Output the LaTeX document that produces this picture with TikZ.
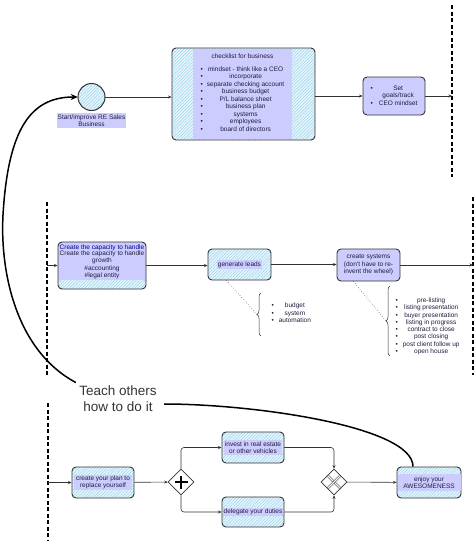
\documentclass[tikz,border=0pt]{standalone}
\usepackage{fontspec}
\setmainfont{Liberation Sans}
\usetikzlibrary{shapes,arrows,positioning,fit,arrows.meta,shapes.geometric,patterns.meta,decorations.pathreplacing}
\definecolor{lav}{HTML}{CCCCFF}
\definecolor{hatchbg}{HTML}{E6F5FB}
\definecolor{hatchln}{HTML}{94D2EE}
\definecolor{edge}{HTML}{333333}
\definecolor{ink}{HTML}{1E1E3C}

\begin{document}
\begin{tikzpicture}[x=1pt, y=-1pt, every node/.style={font=\fontsize{6.5}{7.5}\selectfont, text=ink}]
    \tikzstyle{hatched} = [preaction={fill=hatchbg}, pattern={Lines[angle=45,distance=2.2pt,line width=0.45pt]}, pattern color=hatchln]
    \tikzstyle{hatchbox} = [rectangle, draw=edge, line width=0.9pt, rounded corners=4pt, hatched, inner sep=0pt]
    \tikzstyle{lavbox} = [rectangle, draw=edge, line width=0.9pt, rounded corners=4pt, fill=lav, align=center, inner sep=1pt]
    \tikzstyle{tag} = [fill=lav, align=center, inner sep=1pt]
    \tikzstyle{gate} = [diamond, draw=edge, fill=white, line width=0.6pt, minimum width=26pt, minimum height=26pt, inner sep=0pt]
    \tikzstyle{flow} = [draw=edge, line width=0.6pt, -{Stealth[length=3.5pt,width=3pt]}]
    \tikzstyle{lane} = [line width=1.4pt, dash pattern=on 4pt off 2.5pt]
    \tikzstyle{note} = [draw=edge, line width=0.5pt, dotted]
    \tikzstyle{curly} = [draw=edge, line width=0.5pt, decorate, decoration={brace, amplitude=4pt}]
    \tikzstyle{bigline} = [line width=1.5pt]
    \useasboundingbox (0,0) rectangle (474,541);

    \coordinate (lane1-top) at (452,5);
    \coordinate (lane1-bot) at (452,177);
    \coordinate (lane2-top) at (47,202);
    \coordinate (lane2-bot) at (47,375);
    \coordinate (lane3-top) at (473,197);
    \coordinate (lane3-bot) at (473,375);
    \coordinate (lane4-top) at (48,403);
    \coordinate (lane4-bot) at (48,541);
    \draw [lane] (lane1-top) -- (lane1-bot);
    \draw [lane] (lane2-top) -- (lane2-bot);
    \draw [lane] (lane3-top) -- (lane3-bot);
    \draw [lane] (lane4-top) -- (lane4-bot);

    \node (start) [circle, draw=edge, line width=1pt, hatched, minimum size=27pt, inner sep=0pt] at (91.5,97) {};
    \node (start-t) [tag, minimum width=69pt, minimum height=15pt] at (91.5,120.5) {Start/improve RE Sales\\Business};
    \node (checklist) [hatchbox, minimum width=143pt, minimum height=92pt] at (243.5,94) {};
    \node (checklist-t) [tag, minimum width=99pt, minimum height=90pt] at (242.5,93.5) {\begin{tabular}{@{}l@{\hspace{4pt}}c@{}}
        \multicolumn{2}{c}{checklist for business}\\[5pt]
        \textbullet & mindset - think like a CEO\\
        \textbullet & incorporate\\
        \textbullet & separate checking account\\
        \textbullet & business budget\\
        \textbullet & P/L balance sheet\\
        \textbullet & business plan\\
        \textbullet & systems\\
        \textbullet & employees\\
        \textbullet & board of directors
    \end{tabular}};
    \node (goals) [lavbox, minimum width=62pt, minimum height=38pt] at (394,96) {\begin{tabular}{@{}l@{\hspace{6pt}}c@{}}
        \textbullet & Set\\
        & goals/track\\
        \textbullet & CEO mindset
    \end{tabular}};

    \node (capacity) [lavbox, minimum width=88pt, minimum height=47pt, path picture={\path[hatched] ([yshift=9pt]path picture bounding box.south west) rectangle (path picture bounding box.south east);}] at (102,265.5) {};
    \node (capacity-t) [align=center] at (102,262) {\textcolor{blue!55!black}{Create the capacity to handle}\\[-2pt]Create the capacity to handle\\growth\\\#accounting\\\#legal entity};
    \node (leads) [hatchbox, minimum width=63pt, minimum height=31pt] at (239.5,264.5) {};
    \node (leads-t) [tag, minimum width=45pt] at (leads) {generate leads};
    \node (systems) [lavbox, minimum width=63pt, minimum height=32pt] at (368.5,265) {create systems\\(don't have to re-\\invent the wheel)};

    \coordinate (budget-tip) at (257,314.5);
    \draw [curly] (261,336) -- (261,293);
    \node (budget) [anchor=west] at (268,313.5) {\begin{tabular}{@{}l@{\hspace{5pt}}c@{}}
        \textbullet & budget\\
        \textbullet & system\\
        \textbullet & automation
    \end{tabular}};
    \coordinate (syslist-tip) at (386,321);
    \draw [curly] (390,356) -- (390,286);
    \node (syslist) [anchor=west, font=\fontsize{6.5}{7.3}\selectfont] at (392,326.5) {\begin{tabular}{@{}l@{\hspace{5pt}}c@{}}
        \textbullet & pre-listing\\
        \textbullet & listing presentation\\
        \textbullet & buyer presentation\\
        \textbullet & listing in progress\\
        \textbullet & contract to close\\
        \textbullet & post closing\\
        \textbullet & post client follow up\\
        \textbullet & open house
    \end{tabular}};

    \node (plan) [hatchbox, minimum width=62pt, minimum height=31pt] at (103,482.5) {};
    \node (plan-t) [tag, minimum width=58pt] at (plan) {create your plan to\\replace yourself};
    \node (gate1) [gate] at (181,482) {};
    \node (invest) [hatchbox, minimum width=62pt, minimum height=31pt] at (253,447.5) {};
    \node (invest-t) [tag, minimum width=58pt] at (invest) {invest in real estate\\or other vehicles};
    \node (delegate) [hatchbox, minimum width=62pt, minimum height=30pt] at (253,512) {};
    \node (delegate-t) [tag, minimum width=58pt] at (delegate) {delegate your duties};
    \node (gate2) [gate] at (334,482) {};
    \node (awesome) [hatchbox, minimum width=64pt, minimum height=31pt] at (429,482.5) {};
    \node (awesome-t) [tag, minimum width=63pt, minimum height=17pt] at (awesome) {enjoy your\\AWESOMENESS};
    \node (teach) [font=\fontsize{13.5}{16}\selectfont, align=center, text=black!80] at (118,399) {Teach others\\how to do it};

    \draw [line width=2.4pt] ([xshift=-6.5pt]gate1.center) -- ([xshift=6.5pt]gate1.center);
    \draw [line width=2.4pt] ([yshift=-6.5pt]gate1.center) -- ([yshift=6.5pt]gate1.center);
    \draw [draw=edge, line width=0.5pt, double=white, double distance=1.3pt] ([shift={(-6,-6)}]gate2.center) -- ([shift={(6,6)}]gate2.center);
    \draw [draw=edge, line width=0.5pt, double=white, double distance=1.3pt] ([shift={(-6,6)}]gate2.center) -- ([shift={(6,-6)}]gate2.center);

    \draw [flow] (start) -- (start.east -| checklist.west);
    \draw [flow] (checklist.east |- goals) -- (goals);
    \draw [flow] (goals) -- (goals -| lane1-top);
    \draw [flow] (lane2-top |- capacity) -- (capacity);
    \draw [flow] (capacity.east) -- (capacity.east -| leads.west);
    \draw [flow] (leads.east) -- (leads.east -| systems.west);
    \draw [flow] (systems) -- (systems -| lane3-top);
    \draw [note] ([xshift=-13pt]leads.south) -- (budget-tip);
    \draw [note] ([xshift=-15pt]systems.south) -- (syslist-tip);
    \draw [flow] (lane4-top |- plan) -- (plan);
    \draw [flow] (plan) -- (gate1);
    \draw [flow, rounded corners=3pt] (gate1.north) |- (invest);
    \draw [flow, rounded corners=3pt] (gate1.south) |- (delegate);
    \draw [flow, rounded corners=3pt] (invest) -| (gate2.north);
    \draw [flow, rounded corners=3pt] (delegate) -| (gate2.south);
    \draw [flow] (gate2) -- (awesome);
    \draw [bigline] ([xshift=-16pt]awesome.north) .. controls +(0,-40) and +(90,0) .. ([shift={(4,5)}]teach.east);
    \draw [bigline, -{Stealth[length=7pt,width=6pt]}] (teach.north west) .. controls (15,350) and (0,270) .. (3,215) .. controls (8,130) and (30,97) .. (start);

\end{tikzpicture}
\end{document}
